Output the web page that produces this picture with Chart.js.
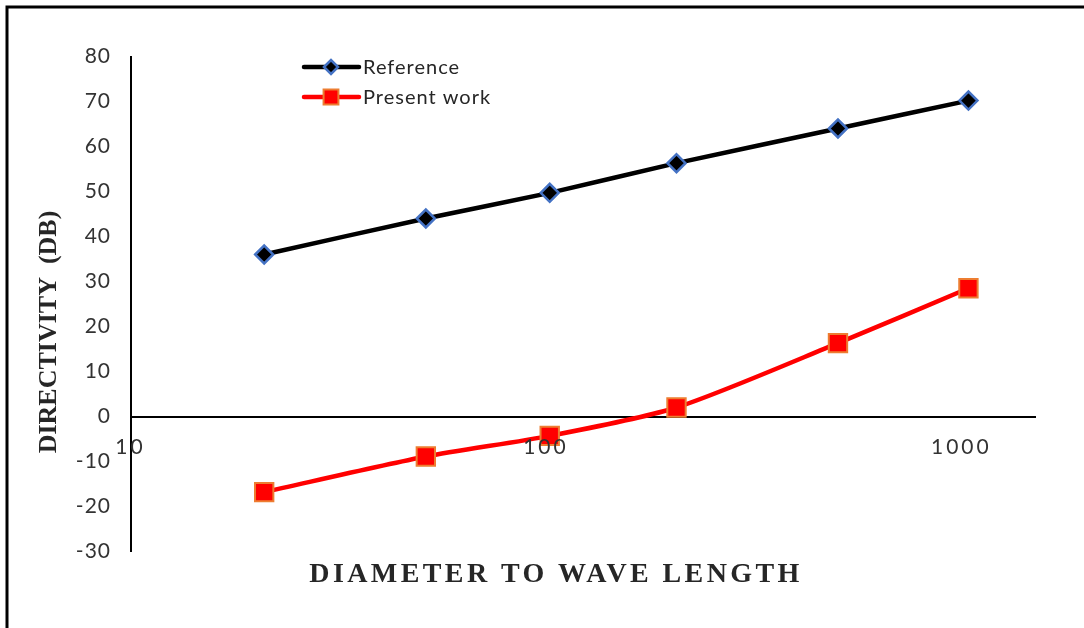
<!DOCTYPE html>
<html>
<head>
<meta charset="utf-8">
<script src="https://cdn.jsdelivr.net/npm/chart.js@4/dist/chart.umd.min.js"></script>
<style>
  html, body { margin: 0; padding: 0; background: #fff; }
  #wrap { width: 1084px; height: 628px; position: relative; }
</style>
</head>
<body>
<div id="wrap"><canvas id="chart" width="1084" height="628"></canvas></div>
<script>
// Diameter-to-wavelength ratios (x, log scale)
const ratios = [20.8, 50.6, 100, 200.8, 488, 1000];
// Directivity in dB for each series
const referenceDb = [36, 44, 49.7, 56.3, 64, 70.2];
const presentDb = [-16.8, -8.9, -4.3, 2, 16.3, 28.5];
// Labels shown along the log axis
const xTickLabels = [10, 100, 1000];
const seriesNames = ['Reference', 'Present work'];
const xTitle = 'DIAMETER TO WAVE LENGTH';
const yTitle = 'DIRECTIVITY  (DB)';

function toPoints(values) {
  return ratios.map((x, i) => ({ x: x, y: values[i] }));
}

function drawMarker(ctx, style, x, y, r, fill, stroke, bw) {
  ctx.save();
  ctx.beginPath();
  if (style === 'rectRot') {
    ctx.moveTo(x - r, y); ctx.lineTo(x, y - r); ctx.lineTo(x + r, y); ctx.lineTo(x, y + r);
  } else {
    const h = r * Math.SQRT1_2;
    ctx.rect(x - h, y - h, 2 * h, 2 * h);
  }
  ctx.closePath();
  ctx.fillStyle = fill; ctx.fill();
  ctx.lineWidth = bw; ctx.strokeStyle = stroke; ctx.stroke();
  ctx.restore();
}

// Frame, log-axis labels, axis titles and the legend
const decor = {
  id: 'decor',
  beforeDraw(chart) {
    const c = chart.ctx;
    c.save();
    c.fillStyle = '#fff';
    c.fillRect(0, 0, chart.width, chart.height);
    c.restore();
    c.letterSpacing = '1px';
  },
  afterDraw(chart) {
    const c = chart.ctx;
    const xs = chart.scales.x;
    c.save();

    // frame lines (top and left)
    c.strokeStyle = '#000';
    c.lineWidth = 3;
    c.beginPath();
    c.moveTo(7, chart.height); c.lineTo(7, 7); c.lineTo(chart.width, 7);
    c.stroke();

    // log axis labels, nudged left a little more per decade
    c.letterSpacing = '3px';
    c.font = '21px Lato';
    c.fillStyle = '#333333';
    c.textAlign = 'center';
    c.textBaseline = 'middle';
    xTickLabels.forEach(v => {
      const nudge = -0.5 - 3.3 * (Math.log10(v) - 1);
      c.fillText(String(v), xs.getPixelForValue(v) + nudge, 447);
    });

    // x title
    c.letterSpacing = '3.4px';
    c.font = 'bold 28px "Liberation Serif"';
    c.fillStyle = '#262626';
    c.textAlign = 'center';
    c.textBaseline = 'alphabetic';
    c.fillText(xTitle, 556, 582);

    // y title
    c.letterSpacing = '0px';
    c.font = 'bold 26px "Liberation Serif"';
    c.save();
    c.translate(56, 332);
    c.rotate(-Math.PI / 2);
    c.fillText(yTitle, 0, 0);
    c.restore();

    // legend
    const ys = [67, 97];
    chart.data.datasets.forEach((ds, i) => {
      const y = ys[i];
      c.strokeStyle = ds.borderColor;
      c.lineWidth = 4.5;
      c.lineCap = 'round';
      c.beginPath(); c.moveTo(304, y); c.lineTo(359, y); c.stroke();
      if (ds.pointStyle === 'rectRot') {
        drawMarker(c, 'rectRot', 331, y, 7, ds.pointBackgroundColor, ds.pointBorderColor, 2.5);
      } else {
        drawMarker(c, 'rect', 331, y, 10.5, ds.pointBackgroundColor, ds.pointBorderColor, 2);
      }
      c.letterSpacing = '1px';
      c.font = '20px Lato';
      c.fillStyle = '#262626';
      c.textAlign = 'left';
      c.textBaseline = 'middle';
      c.fillText(seriesNames[i], 363, y + 1);
    });
    c.restore();
  }
};

function build() {
  new Chart(document.getElementById('chart'), {
    type: 'line',
    data: {
      datasets: [
        {
          label: seriesNames[0],
          data: toPoints(referenceDb),
          borderColor: '#000000',
          borderWidth: 4.5,
          pointStyle: 'rectRot',
          pointRadius: 9,
          pointBackgroundColor: '#000000',
          pointBorderColor: '#4472C4',
          pointBorderWidth: 2.5,
          tension: 0.2
        },
        {
          label: seriesNames[1],
          data: toPoints(presentDb),
          borderColor: '#FF0000',
          borderWidth: 4.5,
          pointStyle: 'rect',
          pointRadius: 13,
          pointBackgroundColor: '#FF0000',
          pointBorderColor: '#ED7D31',
          pointBorderWidth: 2,
          tension: 0.25
        }
      ]
    },
    options: {
      responsive: false,
      animation: false,
      devicePixelRatio: 1,
      layout: { padding: { left: 0, top: 56.5, right: 49, bottom: 76.5 } },
      scales: {
        x: {
          type: 'logarithmic',
          min: 10,
          max: 1442,
          position: { y: 0 },
          grid: { display: false },
          border: { display: true, color: '#000', width: 2 },
          ticks: { display: false }
        },
        y: {
          min: -30,
          max: 80,
          grid: { display: false, drawTicks: false },
          border: { display: true, color: '#000', width: 2 },
          ticks: {
            stepSize: 10,
            padding: 20,
            color: '#333333',
            font: { family: 'Lato', size: 21 }
          },
          afterFit(scale) { scale.width = 131; }
        }
      },
      plugins: { legend: { display: false }, tooltip: { enabled: false } }
    },
    plugins: [decor]
  });
}

Promise.all([
  document.fonts.load('20px Lato'),
  document.fonts.load('bold 28px "Liberation Serif"')
]).then(build, build);
</script>
</body>
</html>
